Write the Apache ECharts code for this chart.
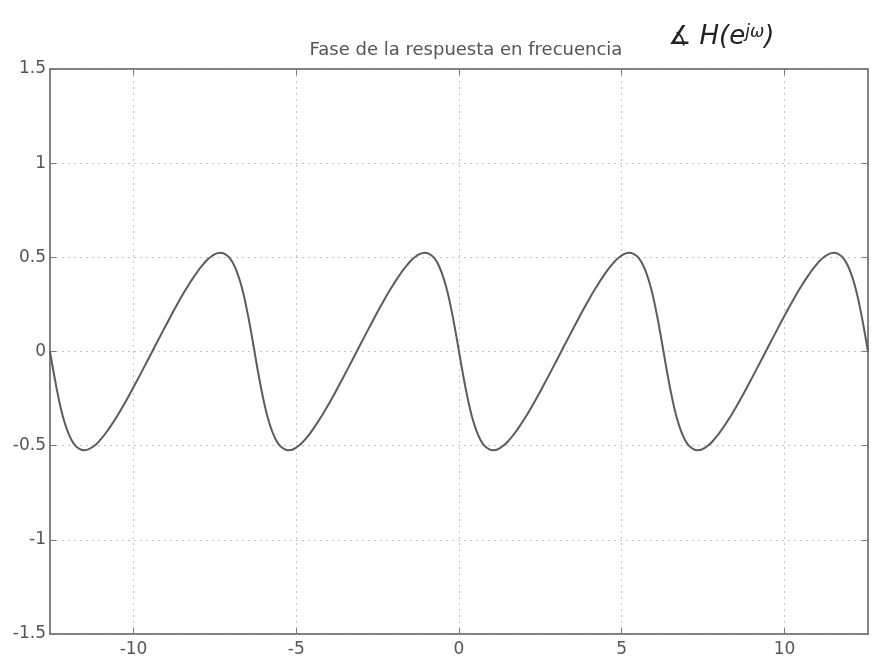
<!DOCTYPE html>
<html>
<head>
<meta charset="utf-8">
<script src="https://cdn.jsdelivr.net/npm/echarts@6/dist/echarts.min.js"></script>
<style>html,body{margin:0;padding:0;background:#fff}#c{width:871px;height:660px}</style>
</head>
<body>
<div id="c"></div>
<script>
var titleText = 'Fase de la respuesta en frecuencia';
var xTickValues = [-10, -5, 0, 5, 10];
var yTickLabels = ['-1.5', '-1', '-0.5', '0', '0.5', '1', '1.5'];
var omega = [
 -12.566,-12.435,-12.305,-12.174,-12.043,-11.912,-11.781,-11.650,-11.519,-11.257,-10.996,-10.734,
 -10.472,-10.210,-9.948,-9.687,-9.425,-9.163,-8.901,-8.639,-8.378,-8.116,-7.854,-7.592,
 -7.330,-7.199,-7.069,-6.938,-6.807,-6.676,-6.545,-6.414,
 -6.283,-6.152,-6.021,-5.890,-5.760,-5.629,-5.498,-5.367,-5.236,-4.974,-4.712,-4.451,
 -4.189,-3.927,-3.665,-3.403,-3.142,-2.880,-2.618,-2.356,-2.094,-1.833,-1.571,-1.309,
 -1.047,-0.916,-0.785,-0.654,-0.524,-0.393,-0.262,-0.131,
 0,0.131,0.262,0.393,0.524,0.654,0.785,0.916,1.047,1.309,1.571,1.833,
 2.094,2.356,2.618,2.880,3.142,3.403,3.665,3.927,4.189,4.451,4.712,4.974,
 5.236,5.367,5.498,5.629,5.760,5.890,6.021,6.152,
 6.283,6.414,6.545,6.676,6.807,6.938,7.069,7.199,7.330,7.592,7.854,8.116,
 8.378,8.639,8.901,9.163,9.425,9.687,9.948,10.210,10.472,10.734,10.996,11.257,
 11.519,11.650,11.781,11.912,12.043,12.174,12.305,12.435,
 12.566
];
var phase = [
 0,-0.129,-0.245,-0.342,-0.415,-0.467,-0.501,-0.518,-0.524,-0.507,-0.464,-0.404,
 -0.334,-0.256,-0.173,-0.087,0,0.087,0.173,0.256,0.334,0.404,0.464,0.507,
 0.524,0.518,0.501,0.467,0.415,0.342,0.245,0.129,
 0,-0.129,-0.245,-0.342,-0.415,-0.467,-0.501,-0.518,-0.524,-0.507,-0.464,-0.404,
 -0.334,-0.256,-0.173,-0.087,0,0.087,0.173,0.256,0.334,0.404,0.464,0.507,
 0.524,0.518,0.501,0.467,0.415,0.342,0.245,0.129,
 0,-0.129,-0.245,-0.342,-0.415,-0.467,-0.501,-0.518,-0.524,-0.507,-0.464,-0.404,
 -0.334,-0.256,-0.173,-0.087,0,0.087,0.173,0.256,0.334,0.404,0.464,0.507,
 0.524,0.518,0.501,0.467,0.415,0.342,0.245,0.129,
 0,-0.129,-0.245,-0.342,-0.415,-0.467,-0.501,-0.518,-0.524,-0.507,-0.464,-0.404,
 -0.334,-0.256,-0.173,-0.087,0,0.087,0.173,0.256,0.334,0.404,0.464,0.507,
 0.524,0.518,0.501,0.467,0.415,0.342,0.245,0.129,
 0
];

var data = omega.map(function (w, i) { return [w, phase[i]]; });
var xMin = omega[0], xMax = omega[omega.length - 1];
var font = 'DejaVu Sans, Liberation Sans, sans-serif';
var axisCol = '#7a7a7a';
var gridLine = { show: true, lineStyle: { color: '#c4c4c4', type: [2, 4], width: 1 } };

var chart = echarts.init(document.getElementById('c'), null, { renderer: 'canvas' });
chart.setOption({
  animation: false,
  backgroundColor: '#fff',
  title: {
    text: titleText, left: 461, top: 36, textAlign: 'center',
    textStyle: { fontFamily: font, fontSize: 18, fontWeight: 'normal', color: '#555' }
  },
  graphic: [{
    type: 'text', left: 668, top: 24,
    style: {
      text: '{a|∡ H(e}{s|jω}{a|)}',
      rich: {
        a: { fontFamily: font, fontSize: 26, fontStyle: 'italic', fill: '#222' },
        s: { fontFamily: font, fontSize: 17, fontStyle: 'italic', fill: '#222', verticalAlign: 'top', padding: [0, 0, 10, 0] }
      }
    }
  }],
  grid: { left: 50, right: 3, top: 69, bottom: 26, show: true, borderColor: axisCol, borderWidth: 1.5 },
  xAxis: [{
    type: 'value', min: xMin, max: xMax, position: 'bottom',
    axisLine: { show: true, onZero: false, lineStyle: { color: axisCol, width: 1.5 } },
    axisTick: { show: true, inside: true, length: 6, customValues: xTickValues, lineStyle: { color: axisCol } },
    axisLabel: { show: true, customValues: xTickValues, margin: 7, fontFamily: font, fontSize: 17, color: '#555' },
    splitLine: gridLine
  }, {
    type: 'value', min: xMin, max: xMax, position: 'top',
    axisLine: { show: true, onZero: false, lineStyle: { color: axisCol, width: 1.5 } },
    axisTick: { show: true, inside: true, length: 6, customValues: xTickValues, lineStyle: { color: axisCol } },
    axisLabel: { show: false },
    splitLine: { show: false }
  }],
  yAxis: [{
    type: 'value', min: -1.5, max: 1.5, interval: 0.5, position: 'left',
    axisLine: { show: true, onZero: false, lineStyle: { color: axisCol, width: 1.5 } },
    axisTick: { show: true, inside: true, length: 6, lineStyle: { color: axisCol } },
    axisLabel: { show: true, margin: 4, fontFamily: font, fontSize: 17, color: '#555',
      formatter: function (v) { var i = Math.round((v + 1.5) / 0.5); return yTickLabels[i]; } },
    splitLine: gridLine
  }, {
    type: 'value', min: -1.5, max: 1.5, interval: 0.5, position: 'right',
    axisLine: { show: true, onZero: false, lineStyle: { color: axisCol, width: 1.5 } },
    axisTick: { show: true, inside: true, length: 6, lineStyle: { color: axisCol } },
    axisLabel: { show: false },
    splitLine: { show: false }
  }],
  series: [{
    type: 'line', xAxisIndex: 0, yAxisIndex: 0, data: data,
    smooth: true, showSymbol: false, clip: true,
    lineStyle: { color: '#5c5c5c', width: 2 }
  }]
});
</script>
</body>
</html>
